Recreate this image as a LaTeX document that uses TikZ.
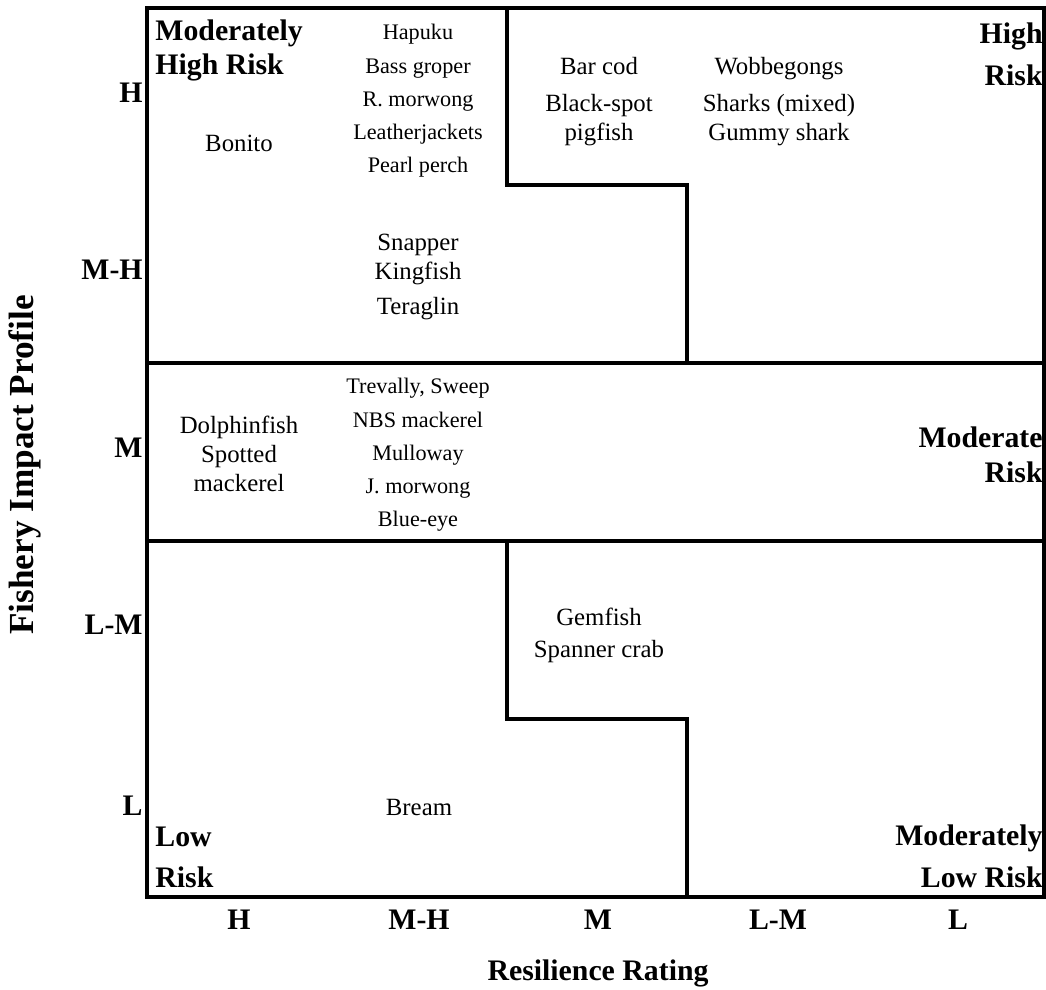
\documentclass[tikz,border=0pt]{standalone}
\usepackage{fontspec}
\setmainfont{Liberation Serif}
\begin{document}
\begin{tikzpicture}[x=0.5pt,y=-0.5pt,
  sp/.style={align=center,inner sep=0pt,font=\fontsize{12.4}{14.5}\selectfont},
  sm/.style={align=center,inner sep=0pt,font=\fontsize{11.1}{16.6}\selectfont},
  rk/.style={inner sep=0pt,font=\fontsize{14.9}{17}\selectfont\bfseries},
  ln/.style={line width=2pt}]
\useasboundingbox (0,0) rectangle (1046,990);
% grid and risk boundaries
\draw[ln] (147,8) rectangle (1044,897);
\draw[ln] (147,363)--(1044,363);
\draw[ln] (147,541)--(1044,541);
\draw[ln] (507,8)--(507,185)--(687,185)--(687,363);
\draw[ln] (507,541)--(507,719)--(687,719)--(687,897);
% risk zones
\node[rk,anchor=west,align=left] (mhr) at (155,50) {Moderately\\High Risk};
\node[rk,anchor=east,align=right] (hr) at (1043,54) {High\\[4pt]Risk};
\node[rk,anchor=east,align=right] (mr) at (1043,455) {Moderate\\[0.5pt]Risk};
\node[rk,anchor=west,align=left] (lr) at (155,857) {Low\\[3.5pt]Risk};
\node[rk,anchor=east,align=right] (mlr) at (1043,856) {Moderately\\[4pt]Low Risk};
% species
\node[sm] (hap) at (418,101) {Hapuku\\Bass groper\\R. morwong\\Leatherjackets\\Pearl perch};
\node[sp] (bon) at (239,143) {Bonito};
\node[sp] (bar) at (599,102) {Bar cod\\[4pt]Black-spot\\pigfish};
\node[sp] (wob) at (779,102) {Wobbegongs\\[4pt]Sharks (mixed)\\Gummy shark};
\node[sp] (snp) at (418,277) {Snapper\\Kingfish\\[3pt]Teraglin};
\node[sp] (dol) at (239,454) {Dolphinfish\\Spotted\\mackerel};
\node[sm] (tre) at (418,455) {Trevally, Sweep\\NBS mackerel\\Mulloway\\J. morwong\\Blue-eye};
\node[sp] (gem) at (599,635) {Gemfish\\[1.5pt]Spanner crab};
\node[sp] (brm) at (419,807) {Bream};
% axes
\node[rk,anchor=east] (yh) at (143,93) {H};
\node[rk,anchor=east] (ymh) at (143,270) {M-H};
\node[rk,anchor=east] (ym) at (143,448) {M};
\node[rk,anchor=east] (ylm) at (143,625) {L-M};
\node[rk,anchor=east] (yl) at (143,806) {L};
\node[rk] (xh) at (239,920) {H};
\node[rk] (xmh) at (419,920) {M-H};
\node[rk] (xm) at (598,920) {M};
\node[rk] (xlm) at (778,920) {L-M};
\node[rk] (xl) at (958,920) {L};
\node[rk] (xt) at (598,973) {Resilience Rating};
\node[rk,rotate=90,font=\fontsize{17.6}{20}\selectfont\bfseries] (yt) at (25,465) {Fishery Impact Profile};
\end{tikzpicture}
\end{document}
